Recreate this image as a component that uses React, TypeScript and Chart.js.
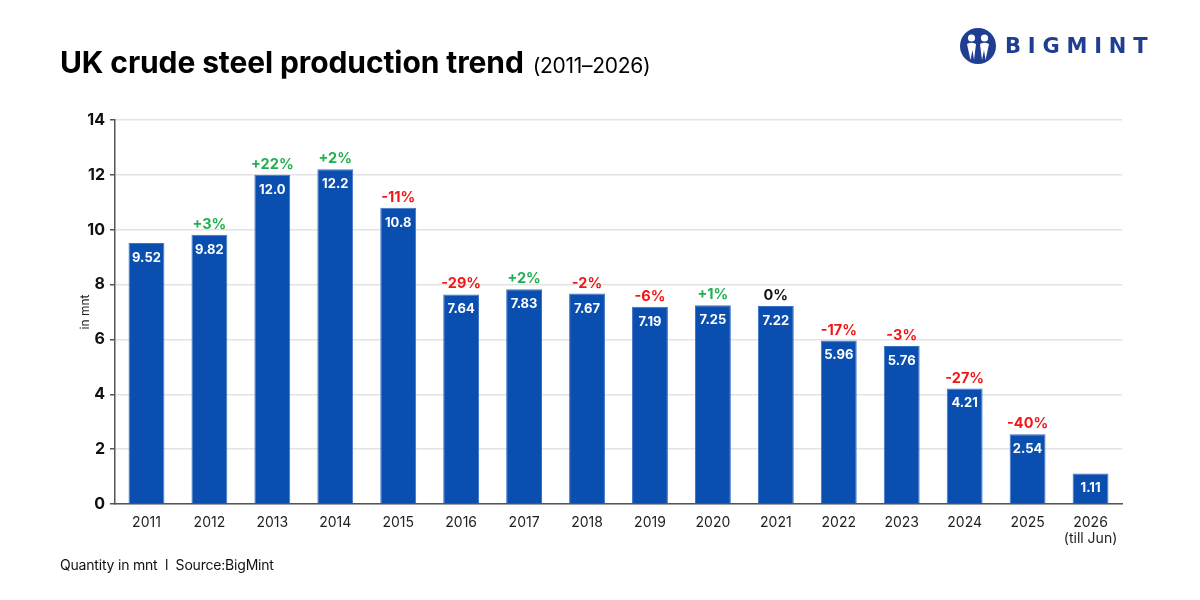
import React, { useEffect, useRef } from "react";
import { Chart, registerables } from "chart.js";

Chart.register(...registerables);

const years: (string | string[])[] = [
  "2011", "2012", "2013", "2014", "2015", "2016", "2017", "2018",
  "2019", "2020", "2021", "2022", "2023", "2024", "2025", ["2026", "(till Jun)"],
];
const production = [9.52, 9.82, 12.0, 12.2, 10.8, 7.64, 7.83, 7.67, 7.19, 7.25, 7.22, 5.96, 5.76, 4.21, 2.54, 1.11];
const valueLabels = ["9.52", "9.82", "12.0", "12.2", "10.8", "7.64", "7.83", "7.67", "7.19", "7.25", "7.22", "5.96", "5.76", "4.21", "2.54", "1.11"];
const changeLabels = ["", "+3%", "+22%", "+2%", "-11%", "-29%", "+2%", "-2%", "-6%", "+1%", "0%", "-17%", "-3%", "-27%", "-40%", ""];
const yTicks = [0, 2, 4, 6, 8, 10, 12, 14];

const FONT = "Inter, 'Liberation Sans', sans-serif";
const BAR = "#0a4fb0";

const labelPlugin = {
  id: "barLabels",
  afterDatasetsDraw(chart: any) {
    const ctx = chart.ctx;
    const meta = chart.getDatasetMeta(0);
    ctx.save();
    ctx.textAlign = "center";
    meta.data.forEach((bar: any, i: number) => {
      const x = bar.x;
      const y = bar.y;
      ctx.fillStyle = "#ffffff";
      ctx.font = `bold 13px ${FONT}`;
      ctx.textBaseline = "middle";
      ctx.fillText(valueLabels[i], x, y + 15);
      const c = changeLabels[i];
      if (c) {
        ctx.font = `bold 14.5px ${FONT}`;
        ctx.textBaseline = "alphabetic";
        ctx.fillStyle = c.startsWith("+") ? "#1fb04f" : c.startsWith("-") ? "#f31616" : "#111111";
        ctx.fillText(c, x, y - 6);
      }
    });
    ctx.restore();
  },
};

function Logo() {
  return (
    <div style={{ position: "absolute", left: 958, top: 26, display: "flex", alignItems: "center" }}>
      <svg width="40" height="40" viewBox="0 0 40 40">
        <circle cx="20" cy="20" r="18" fill="#1f3d91" />
        <circle cx="13.5" cy="12" r="3.6" fill="#fff" />
        <circle cx="26.5" cy="12" r="3.6" fill="#fff" />
        <path d="M9 18 Q13.5 15.5 18 18 L16 34 L14.5 24 L12.5 34 Z" fill="#fff" />
        <path d="M22 18 Q26.5 15.5 31 18 L27.5 34 L26 24 L24 34 Z" fill="#fff" />
      </svg>
      <div
        style={{
          marginLeft: 7,
          fontFamily: "'DejaVu Sans', Inter, sans-serif",
          fontWeight: 700,
          fontSize: 21,
          letterSpacing: 6.8,
          color: "#1f3d91",
        }}
      >
        BIGMINT
      </div>
    </div>
  );
}

export default function App() {
  const ref = useRef<HTMLCanvasElement | null>(null);

  useEffect(() => {
    if (!ref.current) return;
    const chart = new Chart(ref.current, {
      type: "bar",
      data: {
        labels: years as any,
        datasets: [
          {
            data: production,
            backgroundColor: BAR,
            borderColor: "#3b72c6",
            borderWidth: 1,
            barPercentage: 0.57,
            categoryPercentage: 1,
          },
        ],
      },
      options: {
        animation: false,
        responsive: false,
        maintainAspectRatio: false,
        layout: { padding: { left: 74, right: 78, top: 120, bottom: 0 } },
        plugins: {
          legend: { display: false },
          tooltip: { enabled: false },
        },
        scales: {
          x: {
            grid: { display: false },
            border: { color: "#555", width: 1.5 },
            ticks: {
              color: "#222",
              font: { family: FONT, size: 14 },
              padding: 2,
              maxRotation: 0,
              autoSkip: false,
            },
            afterFit: (s: any) => {
              s.height = 96;
            },
          },
          y: {
            min: 0,
            max: 14,
            afterBuildTicks: (s: any) => {
              s.ticks = yTicks.map((v) => ({ value: v }));
            },
            grid: { color: "#e3e3e3", lineWidth: 1.5, tickColor: "#555", tickLength: 5 },
            border: { color: "#555", width: 1.5 },
            ticks: {
              color: "#111",
              font: { family: FONT, size: 16, weight: "bold" },
              padding: 5,
            },
            title: {
              display: true,
              text: "in mnt",
              color: "#222",
              font: { family: FONT, size: 12 },
              padding: { top: 4, bottom: 0 },
            },
            afterFit: (s: any) => {
              s.width = 41;
            },
          },
        },
      },
      plugins: [labelPlugin],
    });
    return () => chart.destroy();
  }, []);

  return (
    <div style={{ position: "absolute", left: 0, top: 0, width: 1200, height: 600, background: "#fff", overflow: "hidden" }}>
      <canvas ref={ref} width={1200} height={600} style={{ position: "absolute", left: 0, top: 0, width: 1200, height: 600 }} />
      <div
        style={{
          position: "absolute",
          left: 60,
          top: 47,
          lineHeight: "30px",
          fontFamily: FONT,
          color: "#000",
          whiteSpace: "nowrap",
        }}
      >
        <span style={{ fontSize: 30, fontWeight: 700, letterSpacing: -0.1 }}>UK crude steel production trend</span>
        <span style={{ fontSize: 21, fontWeight: 400, marginLeft: 9, letterSpacing: -0.3 }}>(2011–2026)</span>
      </div>
      <Logo />
      <div
        style={{
          position: "absolute",
          left: 60,
          top: 556,
          fontFamily: FONT,
          fontSize: 14,
          letterSpacing: -0.2,
          color: "#111",
          whiteSpace: "nowrap",
        }}
      >
        Quantity in mnt&nbsp; l&nbsp; Source:BigMint
      </div>
    </div>
  );
}
